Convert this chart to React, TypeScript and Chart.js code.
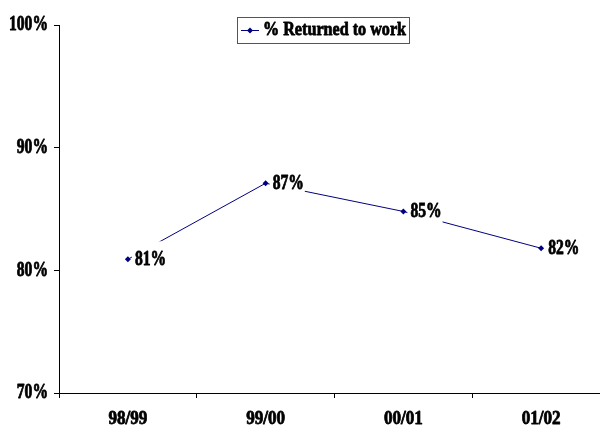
import React, { useEffect, useRef } from "react";
import { Chart, registerables } from "chart.js";
Chart.register(...registerables);

const categories = ["98/99", "99/00", "00/01", "01/02"];
const returnedToWork = [80.9, 87.1, 84.8, 81.8];
const seriesLabel = "% Returned to work";
const yMin = 70;
const yMax = 100;
const yStep = 10;

const FONT = "'Liberation Serif', 'Times New Roman', serif";
const NAVY = "#000080";
const X_SX = 0.9;
const Y_SX = 0.78;
const LABEL_SX = 0.78;
const LEGEND_SX = 0.85;
const EMBOLDEN = 0.8;

export default function App() {
  const ref = useRef<HTMLCanvasElement>(null);
  useEffect(() => {
    const canvas = ref.current!;
    const ctx0 = canvas.getContext("2d") as any;
    const origFill = ctx0.fillText.bind(ctx0);
    const origStroke = ctx0.strokeText.bind(ctx0);
    const origMeasure = ctx0.measureText.bind(ctx0);
    const drawText = (text: string, x: number, y: number, sx: number) => {
      ctx0.save();
      ctx0.translate(x, y);
      ctx0.scale(sx, 1);
      origFill(text, 0, 0);
      ctx0.strokeStyle = ctx0.fillStyle;
      ctx0.lineWidth = EMBOLDEN;
      ctx0.lineJoin = "round";
      origStroke(text, 0, 0);
      ctx0.restore();
    };
    const sxFor = (text: string) => (String(text).includes("/") ? X_SX : Y_SX);
    ctx0.fillText = (text: string, x: number, y: number) => drawText(text, x, y, sxFor(text));
    ctx0.measureText = (text: string) => {
      const m = origMeasure(text);
      return {
        width: m.width * sxFor(text),
        actualBoundingBoxAscent: m.actualBoundingBoxAscent,
        actualBoundingBoxDescent: m.actualBoundingBoxDescent,
        actualBoundingBoxLeft: m.actualBoundingBoxLeft,
        actualBoundingBoxRight: m.actualBoundingBoxRight,
        fontBoundingBoxAscent: m.fontBoundingBoxAscent,
        fontBoundingBoxDescent: m.fontBoundingBoxDescent,
      };
    };

    const labelPlugin = {
      id: "pointLabels",
      afterDatasetsDraw(chart: any) {
        const ctx = chart.ctx;
        const meta = chart.getDatasetMeta(0);
        ctx.save();
        ctx.font = `bold 20px ${FONT}`;
        ctx.textBaseline = "middle";
        ctx.textAlign = "left";
        meta.data.forEach((pt: any, i: number) => {
          const text = Math.round(returnedToWork[i]) + "%";
          const w = origMeasure(text).width * LABEL_SX;
          ctx.fillStyle = "#ffffff";
          ctx.fillRect(pt.x + 4, pt.y - 18, w + 4, 36);
          ctx.fillStyle = "#000000";
          drawText(text, pt.x + 7, pt.y + 0.5, LABEL_SX);
        });
        ctx.restore();
      },
    };
    const legendPlugin = {
      id: "boxLegend",
      afterDraw(chart: any) {
        const ctx = chart.ctx;
        ctx.save();
        ctx.font = `bold 19px ${FONT}`;
        const left = 237;
        const top = 17;
        const h = 26;
        const tw = origMeasure(seriesLabel).width * LEGEND_SX;
        const textX = left + 26;
        const right = textX + tw + 3;
        const cy = top + h / 2;
        ctx.fillStyle = "#ffffff";
        ctx.fillRect(left, top, right - left, h);
        ctx.strokeStyle = "#555555";
        ctx.lineWidth = 1;
        ctx.strokeRect(left + 0.5, top + 0.5, Math.round(right - left), h);
        ctx.strokeStyle = NAVY;
        ctx.beginPath();
        ctx.moveTo(left + 4, Math.round(cy) + 0.5);
        ctx.lineTo(left + 22, Math.round(cy) + 0.5);
        ctx.stroke();
        ctx.fillStyle = NAVY;
        ctx.beginPath();
        const px = left + 13;
        const py = Math.round(cy) + 0.5;
        ctx.moveTo(px, py - 3);
        ctx.lineTo(px + 3, py);
        ctx.lineTo(px, py + 3);
        ctx.lineTo(px - 3, py);
        ctx.closePath();
        ctx.fill();
        ctx.fillStyle = "#000000";
        ctx.textBaseline = "middle";
        ctx.textAlign = "left";
        drawText(seriesLabel, textX, cy + 0.5, LEGEND_SX);
        ctx.restore();
      },
    };
    const chart = new Chart(canvas, {
      type: "line",
      data: {
        labels: categories,
        datasets: [
          {
            label: seriesLabel,
            data: returnedToWork,
            borderColor: NAVY,
            backgroundColor: NAVY,
            borderWidth: 1,
            pointStyle: "rectRot",
            pointRadius: 3,
            pointBorderWidth: 0,
            pointBackgroundColor: NAVY,
            tension: 0,
          },
        ],
      },
      options: {
        animation: false,
        responsive: false,
        devicePixelRatio: 1,
        layout: { padding: { top: 25, right: 10, left: 0, bottom: 0 } },
        plugins: {
          legend: { display: false },
          tooltip: { enabled: false },
        },
        scales: {
          x: {
            type: "category",
            offset: true,
            grid: {
              offset: true,
              display: true,
              drawOnChartArea: false,
              drawTicks: true,
              tickLength: 5,
              color: "#000000",
            },
            border: { display: true, color: "#000000", width: 1 },
            ticks: {
              color: "#000000",
              padding: 10,
              font: { family: FONT, weight: "bold", size: 19 },
              maxRotation: 0,
              autoSkip: false,
            },
            afterFit(scale: any) {
              scale.height = 34;
            },
          },
          y: {
            min: yMin,
            max: yMax,
            grid: {
              display: true,
              drawOnChartArea: false,
              drawTicks: true,
              tickLength: 5,
              color: "#000000",
            },
            border: { display: true, color: "#000000", width: 1 },
            ticks: {
              stepSize: yStep,
              color: "#000000",
              padding: 6,
              font: { family: FONT, weight: "bold", size: 20 },
              callback: (v: any) => `${v}%`,
            },
            afterFit(scale: any) {
              scale.width = 59;
            },
          },
        },
      },
      plugins: [labelPlugin, legendPlugin],
    } as any);
    return () => {
      chart.destroy();
      ctx0.fillText = origFill;
      ctx0.measureText = origMeasure;
    };
  }, []);
  return (
    <div
      style={{
        position: "fixed",
        left: 0,
        top: 0,
        width: 600,
        height: 427,
        overflow: "hidden",
        background: "#ffffff",
      }}
    >
      <canvas ref={ref} width={620} height={427} style={{ width: 620, height: 427, display: "block" }} />
    </div>
  );
}
